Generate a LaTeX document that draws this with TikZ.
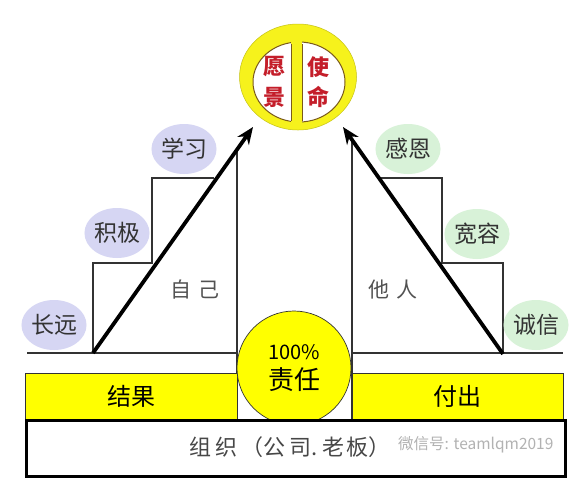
\documentclass[tikz,border=0pt]{standalone}
\usepackage{fontspec}
\setmainfont{Noto Sans CJK SC}
\usetikzlibrary{arrows.meta,shapes.geometric}
\definecolor{bar-yellow}{HTML}{FFFF00}
\definecolor{ring-yellow}{HTML}{F6F21C}
\definecolor{lilac-bg}{HTML}{D6D6F3}
\definecolor{mint-bg}{HTML}{D8F2D8}
\definecolor{seal-red}{HTML}{C41E2A}
\definecolor{rim}{HTML}{7A5A1A}
\definecolor{ink}{HTML}{333333}
\tikzset{
  stair/.style={line width=1.1pt, draw=ink},
  bubble/.style={ellipse, inner sep=0pt, minimum width=62, minimum height=50,
    font=\fontsize{23}{23}\selectfont, text=ink},
  yellowbar/.style={draw=ink, line width=0.8pt, fill=bar-yellow, minimum height=46,
    font=\fontsize{24}{24}\selectfont},
  sealtext/.style={text=seal-red, font=\bfseries\fontsize{22}{22}\selectfont},
  bigarrow/.style={line width=3.8pt, -{Stealth[length=17pt, width=14pt]}}
}

\begin{document}
\begin{tikzpicture}[x=1pt, y=-1pt, every node/.style={inner sep=0pt}]
    \useasboundingbox[fill=white] (0,0) rectangle (583,483);

    % steps on both sides
    \draw[stair] (27,353) -- (237,353);
    \draw[stair] (93,353) -- (93,263) -- (152,263) -- (152,178) -- (214,178);
    \draw[stair] (352,353) -- (563,353);
    \draw[stair] (503,353) -- (503,263) -- (442,263) -- (442,178) -- (378,178);
    \draw[stair] (237,148) -- (237,420);
    \draw[stair] (352,140) -- (352,420);

    % bubbles
    \node[bubble, fill=lilac-bg] (longterm) at (54,325) {长远};
    \node[bubble, fill=lilac-bg] (active) at (117,233) {积极};
    \node[bubble, fill=lilac-bg] (learn) at (184,149) {学习};
    \node[bubble, fill=mint-bg] (grateful) at (408,149) {感恩};
    \node[bubble, fill=mint-bg] (tolerant) at (477,234) {宽容};
    \node[bubble, fill=mint-bg] (honest) at (536,325) {诚信};

    \node[text=ink!85, font=\fontsize{21}{21}\selectfont] (self) at (195,290) {自\hspace{7pt}己};
    \node[text=ink!85, font=\fontsize{21}{21}\selectfont] (others) at (393,290) {他\hspace{7pt}人};

    % top circle
    \node[ellipse, fill=ring-yellow, draw=ring-yellow!80!black, line width=0.5pt,
          minimum width=117, minimum height=106] (vision) at (298,77) {};
    \node[ellipse, fill=white, draw=rim, line width=1pt,
          minimum width=92, minimum height=80] (inner) at (299,82) {};
    \fill[ring-yellow] (291,40) rectangle (302,124);
    \draw[rim, line width=1pt] (302,44) -- (302,121);
    \draw[rim, line width=0.6pt] (291,44) -- (291,121);
    \node[sealtext] (yuan) at (274,67) {愿};
    \node[sealtext] (jing) at (274,97) {景};
    \node[sealtext] (shi) at (318,67) {使};
    \node[sealtext] (ming) at (318,97) {命};

    % arrows
    \coordinate (footL) at (93,353);
    \coordinate (tipL) at (253,127);
    \coordinate (footR) at (503,354);
    \coordinate (tipR) at (343,127);
    \draw[bigarrow] (footL) -- (tipL);
    \draw[bigarrow] (footR) -- (tipR);

    % bottom bars
    \node[yellowbar, minimum width=212] (result) at (131,396) {结果};
    \node[yellowbar, minimum width=211] (effort) at (457.5,396) {付出};
    \node[circle, fill=bar-yellow, draw=ink, line width=0.7pt, minimum size=114,
          align=center, font=\fontsize{20}{26}\selectfont] (duty) at (294,368)
          {\raisebox{4pt}{100\%}\\{\fontsize{26}{26}\selectfont 责任}};
    \node[draw=black, line width=3pt, fill=white, minimum width=539, minimum height=56] (org) at (295.5,448) {};
    \node[text=ink!90, font=\fontsize{22}{22}\selectfont] (orgtext) at (290,447)
          {组\hspace{4pt}织\hspace{4pt}（公\hspace{4pt}司.\hspace{4pt}老\hspace{2pt}板）};
    \node[text=black!30, anchor=west, font=\fontsize{15.5}{15.5}\selectfont] (wm) at (398,445)
          {微信号: teamlqm2019};
\end{tikzpicture}
\end{document}
